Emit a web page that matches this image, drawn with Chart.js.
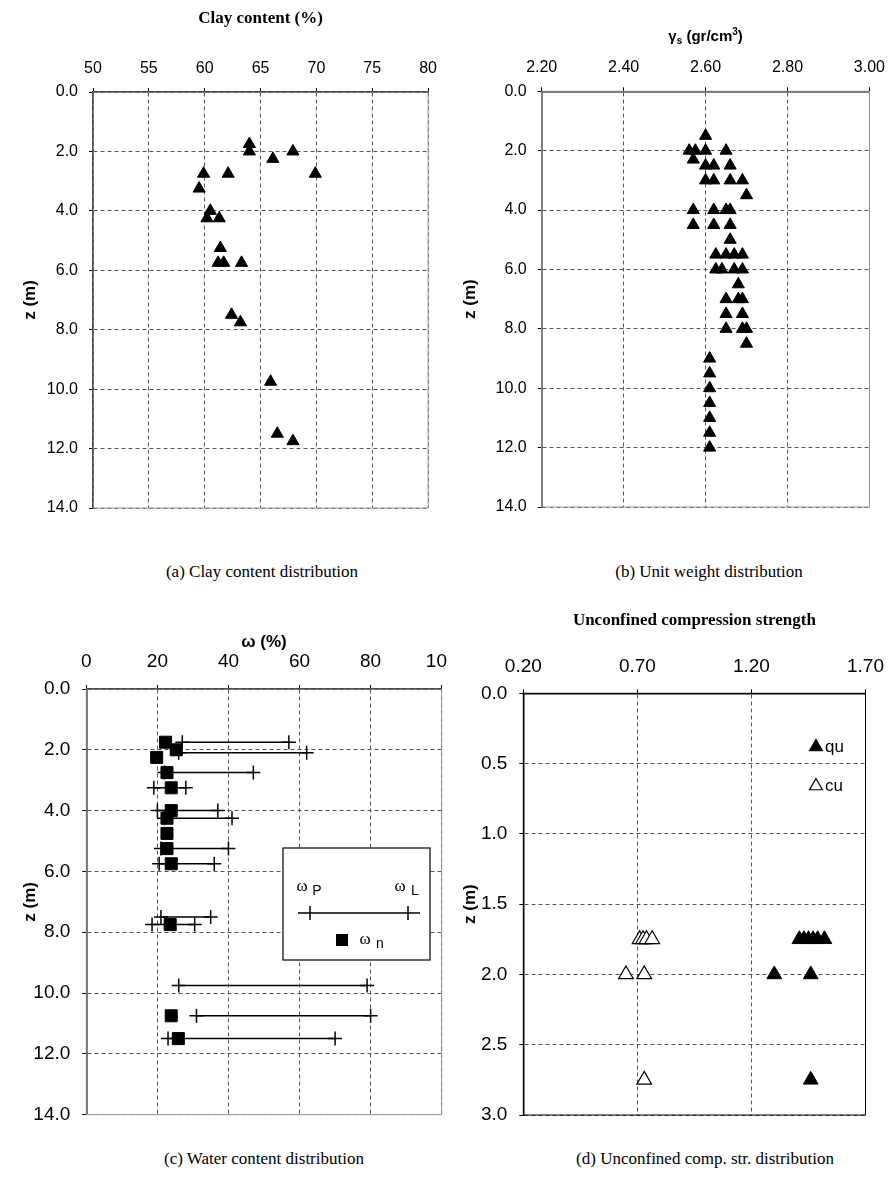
<!DOCTYPE html>
<html>
<head>
<meta charset="utf-8">
<script src="https://cdn.jsdelivr.net/npm/chart.js@4.4.1/dist/chart.umd.min.js"></script>
<style>
body { margin: 0; background: #fff; width: 895px; height: 1183px; position: relative; overflow: hidden; }
canvas, .wrap { position: absolute; }
.cap { position: absolute; width: 440px; text-align: center; font-family: "Liberation Serif", "Times New Roman", serif; font-size: 17px; color: #000; }
</style>
</head>
<body>
<canvas id="ca" width="447" height="530" style="left:0;top:0"></canvas>
<canvas id="cb" width="448" height="530" style="left:447px;top:0"></canvas>
<div class="wrap" style="left:0;top:600px;width:447px;height:540px;overflow:hidden">
  <canvas id="cc" width="470" height="540" style="left:0;top:0"></canvas>
</div>
<canvas id="cd" width="448" height="540" style="left:447px;top:600px"></canvas>
<div class="cap" style="left:42px;top:562px">(a) Clay content distribution</div>
<div class="cap" style="left:489px;top:562px">(b) Unit weight distribution</div>
<div class="cap" style="left:44px;top:1149px">(c) Water content distribution</div>
<div class="cap" style="left:485px;top:1149px">(d) Unconfined comp. str. distribution</div>
<script>
// tick labels
var clayTicks = [50, 55, 60, 65, 70, 75, 80];
var depthTicks = [0, 2, 4, 6, 8, 10, 12, 14];
var gammaTicks = [2.20, 2.40, 2.60, 2.80, 3.00];
var wTicks = [0, 20, 40, 60, 80, 100];
var strTicks = [0.20, 0.70, 1.20, 1.70];
var strDepthTicks = [0, 0.5, 1.0, 1.5, 2.0, 2.5, 3.0];

// (a) clay content
var clayZ   = [1.75, 2.0, 2.25, 2.0, 2.75, 2.75, 2.75, 3.25, 4.0, 4.25, 4.25, 5.25, 5.75, 5.75, 5.75, 7.5, 7.75, 9.75, 11.5, 11.75];
var clayPct = [64.0, 64.0, 66.1, 67.9, 69.9, 59.9, 62.1, 59.5, 60.5, 60.2, 61.3, 61.4, 61.2, 61.7, 63.3, 62.4, 63.2, 65.9, 66.5, 67.9];

// (b) unit weight
var gamZ = [1.5, 2.0, 2.0, 2.0, 2.0, 2.3, 2.5, 2.5, 2.5, 3.0, 3.0, 3.0, 3.0, 3.5,
            4.0, 4.0, 4.0, 4.0, 4.5, 4.5, 4.5, 5.0, 5.5, 5.5, 5.5, 5.5, 6.0, 6.0, 6.0, 6.0,
            6.5, 7.0, 7.0, 7.0, 7.5, 7.5, 8.0, 8.0, 8.0, 8.5,
            9.0, 9.5, 10.0, 10.5, 11.0, 11.5, 12.0];
var gamVal = [2.60, 2.56, 2.575, 2.60, 2.65, 2.57, 2.60, 2.62, 2.66, 2.60, 2.62, 2.66, 2.69, 2.70,
              2.57, 2.62, 2.65, 2.66, 2.57, 2.62, 2.66, 2.66, 2.625, 2.65, 2.67, 2.69, 2.625, 2.64, 2.67, 2.69,
              2.68, 2.65, 2.68, 2.69, 2.65, 2.69, 2.65, 2.69, 2.70, 2.70,
              2.61, 2.61, 2.61, 2.61, 2.61, 2.61, 2.61];

// (c) water content: plastic / liquid limits and natural water content
var limZ  = [1.75, 2.1, 2.75, 3.25, 4.0, 4.25, 5.25, 5.75, 7.5, 7.75, 9.75, 10.75, 11.5];
var wP    = [27.0, 26.0, 22.0, 19.0, 20.0, 22.0, 21.0, 20.5, 21.0, 18.5, 26.0, 31.0, 23.0];
var wL    = [57.0, 62.0, 47.0, 28.0, 37.0, 41.0, 40.0, 36.0, 35.0, 30.5, 79.0, 80.0, 70.0];
var wnZ   = [1.75, 2.0, 2.25, 2.75, 3.25, 4.0, 4.25, 4.75, 5.25, 5.75, 7.75, 10.75, 11.5];
var wn    = [22.3, 25.3, 19.8, 22.7, 23.9, 23.9, 22.7, 22.7, 22.7, 23.9, 23.6, 23.9, 25.9];

// (d) unconfined compression strength
var quZ = [1.75, 1.75, 1.75, 1.75, 1.75, 1.75, 2.0, 2.0, 2.75];
var qu  = [1.41, 1.43, 1.45, 1.47, 1.49, 1.52, 1.30, 1.46, 1.46];
var cuZ = [1.75, 1.75, 1.75, 1.75, 2.0, 2.0, 2.75];
var cu  = [0.71, 0.725, 0.74, 0.765, 0.65, 0.73, 0.73];

var SANS = '"Liberation Sans", Arial, sans-serif';
var SERIF = '"Liberation Serif", "Times New Roman", serif';
Chart.defaults.font.family = SANS;
Chart.defaults.color = '#000';

function pts(xs, zs) {
    return xs.map(function (x, i) { return { x: x, y: zs[i] }; });
}

function gridOpts() {
    return { color: '#555', lineWidth: 1, tickLength: 4, tickColor: '#000', tickWidth: 1, tickBorderDash: [] };
}

function xScale(ticks, dec, size, pad, height, title) {
    return {
        type: 'linear', position: 'top',
        min: ticks[0], max: ticks[ticks.length - 1],
        afterBuildTicks: function (s) { s.ticks = ticks.map(function (v) { return { value: v }; }); },
        afterFit: function (s) { s.height = height; },
        ticks: { callback: function (v) { return Number(v).toFixed(dec); }, font: { size: size }, padding: pad, maxRotation: 0, autoSkip: false },
        grid: gridOpts(),
        border: { display: true, color: '#000', width: 1.5, dash: [4, 3] },
        title: title
    };
}

function yScale(ticks, size, pad, width, titlePad, titleSize) {
    return {
        type: 'linear', position: 'left', reverse: true,
        min: ticks[0], max: ticks[ticks.length - 1],
        afterBuildTicks: function (s) { s.ticks = ticks.map(function (v) { return { value: v }; }); },
        afterFit: function (s) { s.width = width; },
        ticks: { callback: function (v) { return Number(v).toFixed(1); }, font: { size: size }, padding: pad, autoSkip: false },
        grid: gridOpts(),
        border: { display: true, color: '#000', width: 1.5, dash: [4, 3] },
        title: { display: true, text: 'z (m)', font: { size: titleSize, weight: 'bold' }, padding: { top: titlePad, bottom: 0 } }
    };
}

function frame(color) {
    return {
        id: 'frame',
        afterDatasetsDraw: function (chart) {
            var a = chart.chartArea, ctx = chart.ctx;
            ctx.save();
            ctx.strokeStyle = color;
            ctx.lineWidth = 1;
            ctx.strokeRect(a.left, a.top, a.right - a.left, a.bottom - a.top);
            ctx.restore();
        }
    };
}

function baseOpts(pad, scales) {
    return {
        responsive: false, animation: false, devicePixelRatio: 1,
        layout: { padding: pad },
        plugins: { legend: { display: false }, tooltip: { enabled: false } },
        scales: scales
    };
}

function tri(data, r) {
    return { data: data, pointStyle: 'triangle', pointRadius: r, backgroundColor: '#000', borderColor: '#000', borderWidth: 1, showLine: false };
}

// (a)
new Chart(document.getElementById('ca'), {
    type: 'scatter',
    data: { datasets: [tri(pts(clayPct, clayZ), 7)] },
    options: baseOpts({ top: 0, left: 0, right: 15, bottom: 22 }, {
        x: xScale(clayTicks, 0, 16, 10, 92, { display: true, text: 'Clay content (%)', font: { family: SERIF, size: 17, weight: 'bold' }, padding: { top: 8, bottom: 0 } }),
        y: yScale(depthTicks, 16, 11, 93, 20, 17)
    }),
    plugins: [frame('#999')]
});

// (b)
new Chart(document.getElementById('cb'), {
    type: 'scatter',
    data: { datasets: [tri(pts(gamVal, gamZ), 7)] },
    options: baseOpts({ top: 0, left: 0, right: 18.5, bottom: 23 }, {
        x: xScale(gammaTicks, 2, 16, 10, 91.3, { display: false }),
        y: yScale(depthTicks, 16, 11, 94.7, 13, 17)
    }),
    plugins: [frame('#999'), {
        id: 'gtitle',
        afterDraw: function (chart) {
            var ctx = chart.ctx, a = chart.chartArea;
            var big = 'bold 15px ' + SANS, small = 'bold 10px ' + SANS;
            var parts = [['γ', big, 0], ['s', small, 4], [' (gr/cm', big, 0], ['3', small, -5], [')', big, 0]];
            ctx.save();
            var w = 0;
            parts.forEach(function (p) { ctx.font = p[1]; w += ctx.measureText(p[0]).width; });
            var x = (a.left + a.right) / 2 - w / 2;
            ctx.textBaseline = 'middle'; ctx.textAlign = 'left'; ctx.fillStyle = '#000';
            parts.forEach(function (p) { ctx.font = p[1]; ctx.fillText(p[0], x, 37 + p[2]); x += ctx.measureText(p[0]).width; });
            ctx.restore();
        }
    }]
});

// (c)
var cSets = [];
for (var i = 0; i < limZ.length; i++) {
    cSets.push({
        data: [{ x: wP[i], y: limZ[i] }, { x: wL[i], y: limZ[i] }],
        showLine: true, borderColor: '#000', borderWidth: 1.5,
        pointStyle: 'cross', pointRadius: 7, pointBorderWidth: 1.5, pointBorderColor: '#000', pointBackgroundColor: '#000'
    });
}
cSets.push({
    data: pts(wn, wnZ), showLine: false,
    pointStyle: 'rect', pointRadius: 8.5, backgroundColor: '#000', borderColor: '#000', borderWidth: 1
});
new Chart(document.getElementById('cc'), {
    type: 'scatter',
    data: { datasets: cSets },
    options: baseOpts({ top: 0, left: 0, right: 28.3, bottom: 25.4 }, {
        x: xScale(wTicks, 0, 19, 12, 89, { display: true, text: 'ω (%)', font: { size: 17, weight: 'bold' }, padding: { top: 32, bottom: 0 } }),
        y: yScale(depthTicks, 19, 12, 86.3, 20, 17)
    }),
    plugins: [frame('#999'), {
        id: 'wlegend',
        afterDraw: function (chart) {
            var ctx = chart.ctx;
            var bx = 283, by = 248, bw = 147, bh = 112;
            ctx.save();
            ctx.fillStyle = '#fff'; ctx.fillRect(bx, by, bw, bh);
            ctx.strokeStyle = '#000'; ctx.lineWidth = 1.2; ctx.strokeRect(bx, by, bw, bh);
            ctx.fillStyle = '#000'; ctx.textBaseline = 'middle'; ctx.textAlign = 'center';
            var labels = [['P', 302, 287], ['L', 400, 287], ['n', 365, 340]];
            labels.forEach(function (l) {
                ctx.font = '17px ' + SERIF; ctx.fillText('ω', l[1], l[2]);
                ctx.font = '14px ' + SANS; ctx.fillText(l[0], l[1] + 15, l[2] + 4);
            });
            ctx.lineWidth = 1.5;
            ctx.beginPath(); ctx.moveTo(298, 313); ctx.lineTo(420, 313); ctx.stroke();
            [310, 408].forEach(function (x) { ctx.beginPath(); ctx.moveTo(x, 306); ctx.lineTo(x, 320); ctx.stroke(); });
            ctx.fillRect(336, 334, 12, 12);
            ctx.restore();
        }
    }]
});

// (d)
new Chart(document.getElementById('cd'), {
    type: 'scatter',
    data: {
        datasets: [
            tri(pts(qu, quZ), 8.5),
            { data: pts(cu, cuZ), pointStyle: 'triangle', pointRadius: 8.5, backgroundColor: '#fff', borderColor: '#000', borderWidth: 1.2, showLine: false }
        ]
    },
    options: baseOpts({ top: 0, left: 0, right: 19.7, bottom: 25 }, {
        x: xScale(strTicks, 2, 19, 11, 93.3, { display: true, text: 'Unconfined compression strength', font: { family: SERIF, size: 17, weight: 'bold' }, padding: { top: 10, bottom: 0 } }),
        y: yScale(strDepthTicks, 19, 12, 76.3, 13, 17)
    }),
    plugins: [frame('#000'), {
        id: 'slegend',
        afterDraw: function (chart) {
            var ctx = chart.ctx;
            var items = [['qu', 147, '#000'], ['cu', 186, '#fff']];
            ctx.save();
            items.forEach(function (it) {
                var cx = 369, cy = it[1], r = 7.5;
                ctx.beginPath();
                ctx.moveTo(cx, cy - r);
                ctx.lineTo(cx + r * 0.866, cy + r / 2);
                ctx.lineTo(cx - r * 0.866, cy + r / 2);
                ctx.closePath();
                ctx.fillStyle = it[2]; ctx.fill();
                ctx.strokeStyle = '#000'; ctx.lineWidth = 1.2; ctx.stroke();
                ctx.fillStyle = '#000'; ctx.font = '17px ' + SANS; ctx.textBaseline = 'middle'; ctx.textAlign = 'left';
                ctx.fillText(it[0], 378, cy);
            });
            ctx.restore();
        }
    }]
});
</script>
</body>
</html>
